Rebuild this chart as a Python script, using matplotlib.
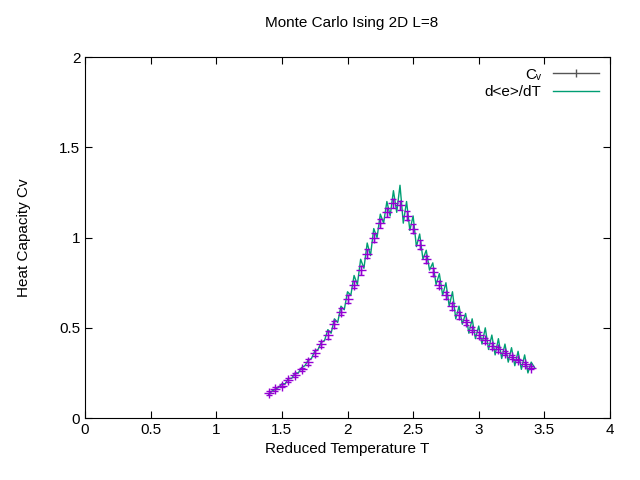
import numpy as np
import matplotlib
matplotlib.use('Agg')
import matplotlib.pyplot as plt

# Cv from fluctuations, with error bars
cv_t = [1.40, 1.45, 1.50, 1.55, 1.60, 1.65, 1.70, 1.75, 1.80, 1.85, 1.90, 1.95, 2.00, 2.05,
        2.10, 2.15, 2.20, 2.25, 2.30, 2.35, 2.40, 2.45, 2.50, 2.55, 2.60, 2.65, 2.70, 2.75,
        2.80, 2.85, 2.90, 2.95, 3.00, 3.05, 3.10, 3.15, 3.20, 3.25, 3.30, 3.35, 3.40]
cv = [0.14, 0.16, 0.18, 0.21, 0.24, 0.27, 0.31, 0.36, 0.41, 0.46, 0.52, 0.59, 0.66, 0.74,
      0.82, 0.91, 1.00, 1.08, 1.14, 1.19, 1.18, 1.12, 1.05, 0.96, 0.88, 0.81, 0.74, 0.68,
      0.62, 0.57, 0.53, 0.49, 0.46, 0.43, 0.40, 0.38, 0.36, 0.34, 0.32, 0.30, 0.28]
cv_err = [0.01, 0.01, 0.01, 0.01, 0.01, 0.01, 0.015, 0.015, 0.015, 0.02, 0.02, 0.02, 0.02, 0.02,
          0.025, 0.025, 0.025, 0.025, 0.025, 0.025, 0.025, 0.025, 0.025, 0.025, 0.02, 0.02, 0.02, 0.02,
          0.02, 0.02, 0.015, 0.015, 0.015, 0.015, 0.015, 0.015, 0.01, 0.01, 0.01, 0.01, 0.01]

# numerical derivative d<e>/dT
de_t = [1.400, 1.425, 1.450, 1.475, 1.500, 1.525, 1.550, 1.575, 1.600, 1.625, 1.650, 1.675,
        1.700, 1.725, 1.750, 1.775, 1.800, 1.825, 1.850, 1.875, 1.900, 1.925, 1.950, 1.975,
        2.000, 2.025, 2.050, 2.075, 2.100, 2.125, 2.150, 2.175, 2.200, 2.225, 2.250, 2.275,
        2.300, 2.325, 2.350, 2.375, 2.400, 2.425, 2.450, 2.475, 2.500, 2.525, 2.550, 2.575,
        2.600, 2.625, 2.650, 2.675, 2.700, 2.725, 2.750, 2.775, 2.800, 2.825, 2.850, 2.875,
        2.900, 2.925, 2.950, 2.975, 3.000, 3.025, 3.050, 3.075, 3.100, 3.125, 3.150, 3.175,
        3.200, 3.225, 3.250, 3.275, 3.300, 3.325, 3.350, 3.375, 3.400, 3.425]
de = [0.13, 0.15, 0.16, 0.17, 0.19, 0.19, 0.22, 0.22, 0.25, 0.25, 0.28, 0.29,
      0.32, 0.33, 0.37, 0.38, 0.42, 0.43, 0.49, 0.47, 0.55, 0.53, 0.62, 0.60,
      0.70, 0.68, 0.79, 0.74, 0.88, 0.83, 0.97, 0.90, 1.05, 1.00, 1.13, 1.08,
      1.20, 1.12, 1.26, 1.14, 1.29, 1.08, 1.20, 1.04, 1.12, 0.95, 1.02, 0.88,
      0.93, 0.82, 0.86, 0.74, 0.80, 0.68, 0.75, 0.62, 0.70, 0.55, 0.62, 0.52,
      0.58, 0.47, 0.55, 0.44, 0.51, 0.41, 0.50, 0.38, 0.46, 0.35, 0.44, 0.33,
      0.41, 0.31, 0.39, 0.29, 0.37, 0.27, 0.35, 0.25, 0.31, 0.28]

plt.rcParams['font.family'] = ['Liberation Sans', 'DejaVu Sans']
fig = plt.figure(figsize=(6.4, 4.8), dpi=100)
ax = fig.add_axes([0.133, 0.129, 0.820, 0.752])

line_de, = ax.plot(de_t, de, color='#009e73', linewidth=1, zorder=2)
ax.errorbar(cv_t, cv, yerr=cv_err, fmt='+', color='#9400d3', ecolor='#9400d3',
            markersize=7, elinewidth=1, capsize=2, zorder=3)
# legend sample in gnuplot style: gray horizontal bar with ticks
h_cv, = ax.plot([], [], color='#555555', linewidth=1, marker='|', markersize=6)

ax.set_xlim(0, 4)
ax.set_ylim(0, 2)
ax.set_xticks(np.arange(0, 4.01, 0.5))
ax.set_xticklabels(['0', '0.5', '1', '1.5', '2', '2.5', '3', '3.5', '4'])
ax.set_yticks([0, 0.5, 1, 1.5, 2])
ax.set_yticklabels(['0', '0.5', '1', '1.5', '2'])
ax.tick_params(direction='in', top=True, right=True, labelsize=11, length=5)
ax.set_xlabel('Reduced Temperature T', fontsize=11)
ax.set_ylabel('Heat Capacity Cv', fontsize=11, labelpad=20)
fig.text(0.55, 0.953, 'Monte Carlo Ising 2D L=8', ha='center', va='center', fontsize=11)

ax.legend([h_cv, line_de], ['C\u1d65', 'd<e>/dT'], loc='upper right', frameon=False,
          markerfirst=False, fontsize=11, handlelength=3, borderaxespad=0.3,
          labelspacing=0.2)

fig.savefig('out.png')
